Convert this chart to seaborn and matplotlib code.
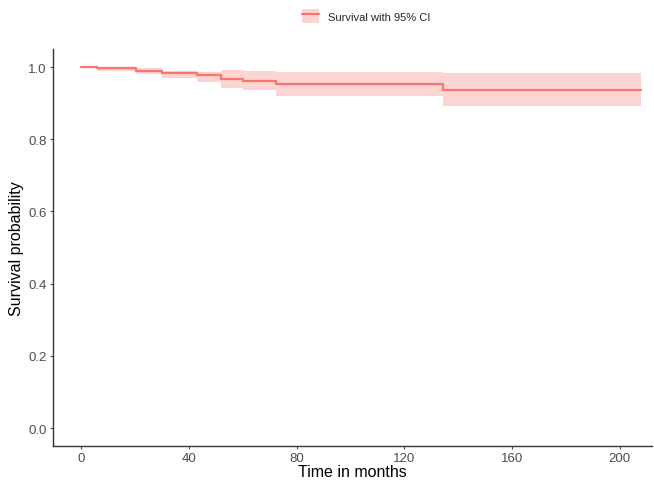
import matplotlib
matplotlib.use("Agg")
import matplotlib.pyplot as plt
import numpy as np
import pandas as pd
import seaborn as sns
from matplotlib.patches import Patch
from matplotlib.lines import Line2D

sns.set_theme(style="ticks")
plt.rcParams['font.family'] = ['Liberation Sans', 'DejaVu Sans']

# Kaplan-Meier estimate
time = [0, 6, 20.5, 30, 43, 52, 60, 72.5, 134.5, 208]
surv = [1.0, 0.996, 0.990, 0.983, 0.978, 0.967, 0.960, 0.954, 0.936, 0.936]
upper = [1.0, 1.0, 0.997, 0.989, 0.986, 0.993, 0.989, 0.987, 0.983, 0.983]
lower = [1.0, 0.988, 0.981, 0.970, 0.959, 0.941, 0.935, 0.921, 0.891, 0.891]

df = pd.DataFrame({"time": time, "surv": surv, "upper": upper, "lower": lower})
red = "#F8766D"

fig = plt.figure(figsize=(6.54, 4.85), dpi=100)
ax = fig.add_axes([0.081, 0.078, 0.916, 0.819])

ax.fill_between(df["time"], df["lower"], df["upper"], step="post",
                color=red, alpha=0.3, linewidth=0)
sns.lineplot(data=df, x="time", y="surv", ax=ax, color=red, linewidth=1.6,
             drawstyle="steps-post", legend=False)

ax.set_xlim(-10.5, 212)
ax.set_ylim(-0.05, 1.05)
ax.set_xticks([0, 40, 80, 120, 160, 200])
ax.set_yticks([0.0, 0.2, 0.4, 0.6, 0.8, 1.0])
ax.set_yticklabels(["0.0", "0.2", "0.4", "0.6", "0.8", "1.0"])
ax.set_xlabel("Time in months", fontsize=11.5, color="black", labelpad=0)
ax.set_ylabel("Survival probability", fontsize=11.5, color="black", labelpad=3)
ax.tick_params(axis="both", labelsize=9.5, colors="#4D4D4D", length=2.5,
               width=0.8, pad=2)
for side in ["top", "right"]:
    ax.spines[side].set_visible(False)
for side in ["left", "bottom"]:
    ax.spines[side].set_color("#333333")
    ax.spines[side].set_linewidth(1.0)

handle = (Patch(facecolor=red, alpha=0.3, edgecolor="none"),
          Line2D([], [], color=red, linewidth=1.6))
fig.legend([handle], ["Survival with 95% CI"], loc="upper center",
           bbox_to_anchor=(0.56, 1.0), frameon=False, fontsize=8,
           handlelength=1.6, handleheight=1.6)

fig.savefig("out.png", dpi=100)
